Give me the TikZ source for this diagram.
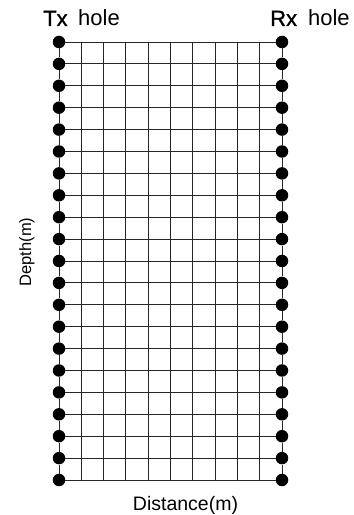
\documentclass[tikz,border=0pt]{standalone}
\usepackage{fontspec}
\setmainfont{Liberation Sans}
\newfontfamily\medsans[FakeBold=1.2]{Liberation Sans}
\begin{document}
\begin{tikzpicture}[x=1pt,y=1pt,
  hole/.style={circle,fill=black,inner sep=0pt,minimum size=12.5pt},
  gridline/.style={line width=0.9pt,black!85},
  lbl/.style={inner sep=0pt,font=\fontsize{22}{25}\selectfont},
  axislbl/.style={inner sep=0pt,font=\fontsize{19.5}{22}\selectfont}]
\useasboundingbox (0,0) rectangle (354,515);
% holes
\foreach \i in {0,...,20}{
  \node[hole] (L\i) at (59,{473-21.9*\i}) {};
  \node[hole] (R\i) at (282,{473-21.9*\i}) {};
}
% horizontal lines
\foreach \i in {0,...,20}{
  \draw[gridline] (L\i) -- (R\i);
}
% borehole lines
\foreach \i [evaluate=\i as \j using int(\i+1)] in {0,...,19}{
  \draw[gridline] (L\i) -- (L\j);
  \draw[gridline] (R\i) -- (R\j);
}
% vertical grid lines
\foreach \k in {1,...,9}{
  \coordinate (T\k) at ({59+22.3*\k},473);
  \coordinate (B\k) at ({59+22.3*\k},35);
  \draw[gridline] (T\k) -- (B\k);
}
% labels
\node[lbl,anchor=base west] (tx) at (43,489) {{\medsans Tx}\hspace{0.48em}hole};
\node[lbl,anchor=base west] (rx) at (270,489) {{\medsans Rx}\hspace{0.5em}hole};
\node[axislbl,anchor=base] (dist) at (185.5,5) {Distance(m)};
\node[inner sep=0pt,font=\fontsize{16.5}{19}\selectfont,anchor=base,rotate=90] (depth) at (31,263) {Depth(m)};
\end{tikzpicture}
\end{document}
